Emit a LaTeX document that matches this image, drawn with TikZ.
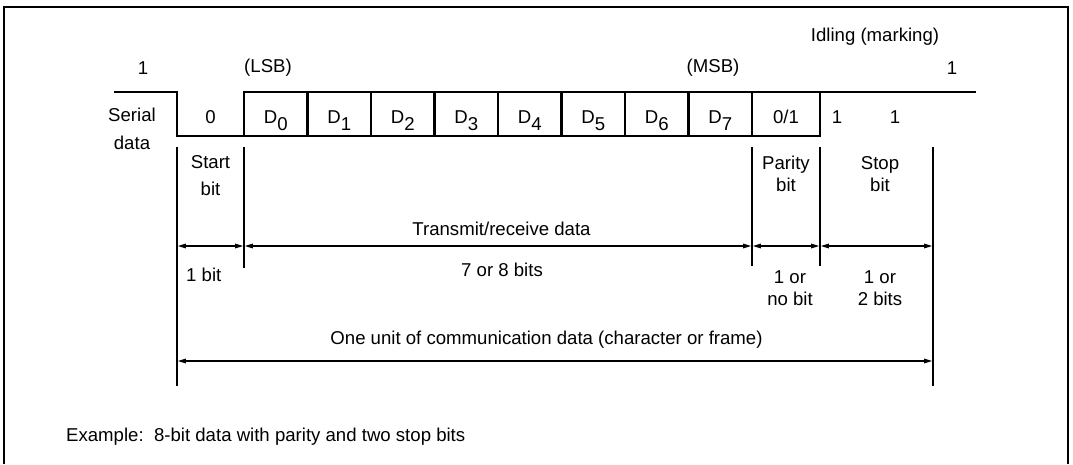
\documentclass[tikz,border=0pt]{standalone}
\usepackage{fontspec}
\setmainfont{Liberation Sans}
\usetikzlibrary{arrows.meta}

\newcommand{\dbit}[1]{D\raisebox{-7pt}{#1}}

\begin{document}
\begin{tikzpicture}[x=1pt, y=-1pt,
  txt/.style={font=\fontsize{18.6}{22}\selectfont, inner sep=0pt, align=center},
  cell/.style={draw, line width=2.4pt, minimum width=#1, minimum height=44pt,
    inner sep=0pt, outer sep=0pt, text height=18pt, text depth=0pt,
    font=\fontsize{18.6}{22}\selectfont},
  cell/.default=63.5pt,
  wave/.style={line width=2.4pt, line join=miter},
  tick/.style={line width=1.2pt},
  dim/.style={{Triangle[length=8pt,width=4.5pt]}-{Triangle[length=8pt,width=4.5pt]},
    line width=1.2pt, shorten <=0.8pt, shorten >=0.8pt}
]
\useasboundingbox (0,0) rectangle (1073,464);
\draw[line width=2pt] (4,464) -- (4,7) -- (1068,7) -- (1068,464);

% signal levels
\node[txt] (idlehi) at (143,68) {1};
\node[txt] (lsb) at (268,68) {(LSB)};
\node[txt] (msb) at (713,68) {(MSB)};
\node[txt] (idlehi2) at (952,68) {1};
\node[txt] (idling) at (875,37) {Idling (marking)};
\node[txt, font=\fontsize{18.6}{28}\selectfont] (serial) at (132,129) {Serial\\data};

% frame cells
\node[cell] (d0) at (275.75,114) {\dbit{0}};
\node[cell] (d1) at (339.25,114) {\dbit{1}};
\node[cell] (d2) at (402.75,114) {\dbit{2}};
\node[cell] (d3) at (466.25,114) {\dbit{3}};
\node[cell] (d4) at (529.75,114) {\dbit{4}};
\node[cell] (d5) at (593.25,114) {\dbit{5}};
\node[cell] (d6) at (656.75,114) {\dbit{6}};
\node[cell] (d7) at (720.25,114) {\dbit{7}};
\node[cell=68pt] (parity) at (786,114) {0/1};
\node[txt] (startval) at (210.5,117) {0};
\node[txt] (stop1) at (837,117) {1};
\node[txt] (stop2) at (895,117) {1};

\coordinate (idleL) at (114,92);
\coordinate (startlow) at (177,136);
\coordinate (idleR) at (976,92);
\draw[wave] (idleL) -| (startlow) -- (d0.south west);
\draw[wave] (parity.north east) -- (idleR);

% field borders
\coordinate (k1t) at (177,147); \coordinate (k1b) at (177,386);
\coordinate (k2t) at (244,147); \coordinate (k2b) at (244,268);
\coordinate (k3t) at (752,147); \coordinate (k3b) at (752,266);
\coordinate (k4t) at (820,147); \coordinate (k4b) at (820,266);
\coordinate (k5t) at (933,147); \coordinate (k5b) at (933,386);
\draw[tick] (k1t) -- (k1b);
\draw[tick] (k2t) -- (k2b);
\draw[tick] (k3t) -- (k3b);
\draw[tick] (k4t) -- (k4b);
\draw[tick] (k5t) -- (k5b);

\node[txt, font=\fontsize{18.6}{27}\selectfont] (startbit) at (210.5,176) {Start\\bit};
\node[txt] (paritybit) at (786,174) {Parity\\bit};
\node[txt] (stopbit) at (880,174) {Stop\\bit};

% widths
\coordinate (r1) at (177,246); \coordinate (r2) at (244,246);
\coordinate (r3) at (752,246); \coordinate (r4) at (820,246);
\coordinate (r5) at (933,246);
\draw[dim] (r1) -- (r2);
\draw[dim] (r2) -- (r3);
\draw[dim] (r3) -- (r4);
\draw[dim] (r4) -- (r5);
\node[txt] (trx) at (501.5,229) {Transmit/receive data};
\node[txt, anchor=west] (onebit) at (186,275) {1 bit};
\node[txt] (sevenbits) at (502,270) {7 or 8 bits};
\node[txt] (paritylen) at (790,288) {1 or\\no bit};
\node[txt] (stoplen) at (880,288) {1 or\\2 bits};

\coordinate (u1) at (177,361); \coordinate (u2) at (933,361);
\draw[dim] (u1) -- (u2);
\node[txt] (unit) at (546.5,340) {One unit of communication data (character or frame)};

\node[txt, anchor=west] (example) at (66,437)
  {Example:\ \ 8-bit data with parity and two stop bits};
\end{tikzpicture}
\end{document}
